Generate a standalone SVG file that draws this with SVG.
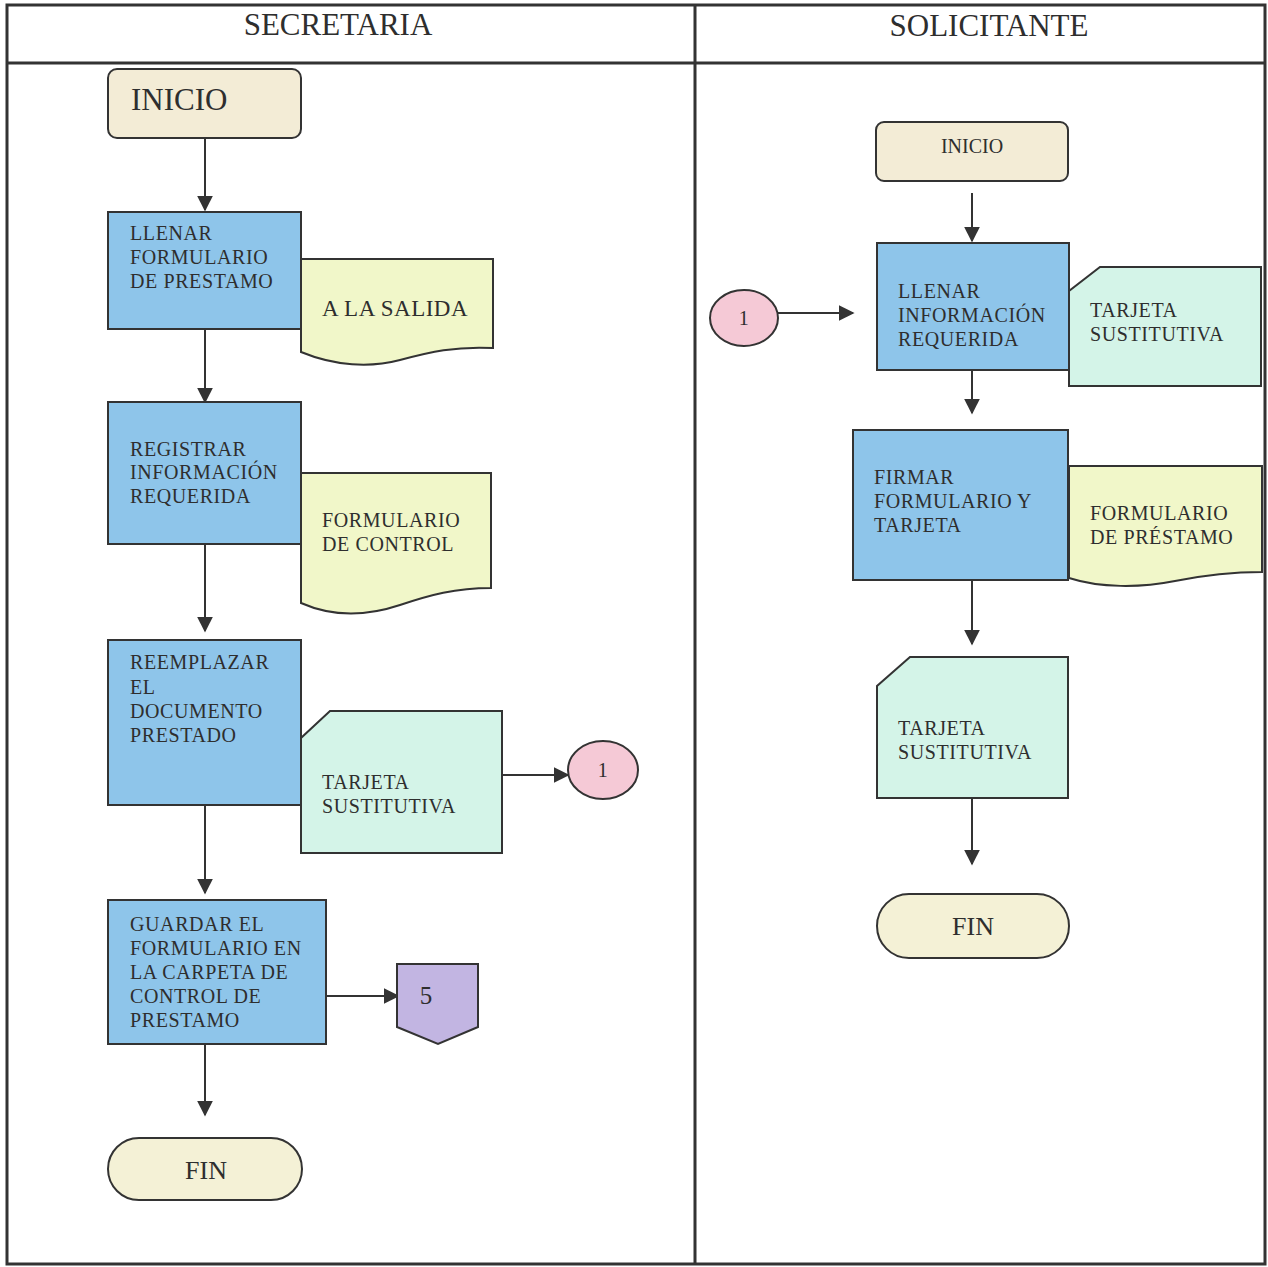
<svg xmlns="http://www.w3.org/2000/svg" width="1268" height="1267" viewBox="0 0 1268 1267" font-family="'Liberation Serif', 'DejaVu Serif', serif">
<style>
text{font-family:'Liberation Serif','DejaVu Serif',serif;fill:#2e2e2e}
.hdr{font-size:31px;text-anchor:middle}
.t{font-size:20px;letter-spacing:0.6px}
.s{stroke:#333;stroke-width:2}
.proc{fill:#8ec5ea}
.doc{fill:#f1f7c9}
.card{fill:#d4f4e8}
.term{fill:#f3ecd6}
.fin{fill:#f4f1d6}
.conn{fill:#f5c9d6}
.off{fill:#c2b5e2}
.edge{stroke:#333;stroke-width:2;fill:none;marker-end:url(#ah)}
</style>
<defs>
<marker id="ah" viewBox="0 0 10 10" refX="9" refY="5" markerWidth="16" markerHeight="16" markerUnits="userSpaceOnUse" orient="auto"><path d="M0,0 L10,5 L0,10 z" fill="#333"/></marker>
</defs>
<rect width="1268" height="1267" fill="#fff"/>
<g id="frame">
<rect x="7" y="5" width="1258" height="1259" fill="none" stroke="#333" stroke-width="3"/>
<line x1="7" y1="63" x2="1265" y2="63" stroke="#333" stroke-width="3"/>
<line x1="695" y1="5" x2="695" y2="1264" stroke="#333" stroke-width="3"/>
<text class="hdr" x="338" y="35">SECRETARIA</text>
<text class="hdr" x="989" y="36">SOLICITANTE</text>
</g>
<g id="connectors">
<line class="edge" x1="205" y1="138" x2="205" y2="210"/>
<line class="edge" x1="205" y1="329" x2="205" y2="402"/>
<line class="edge" x1="205" y1="544" x2="205" y2="631"/>
<line class="edge" x1="502" y1="775" x2="568" y2="775"/>
<line class="edge" x1="205" y1="805" x2="205" y2="893"/>
<line class="edge" x1="326" y1="996" x2="398" y2="996"/>
<line class="edge" x1="205" y1="1044" x2="205" y2="1115"/>
<line class="edge" x1="972" y1="193" x2="972" y2="241"/>
<line class="edge" x1="778" y1="313" x2="853" y2="313"/>
<line class="edge" x1="972" y1="370" x2="972" y2="413"/>
<line class="edge" x1="972" y1="565" x2="972" y2="644"/>
<line class="edge" x1="972" y1="775" x2="972" y2="864"/>
</g>
<g id="s-inicio">
<rect class="term s" x="108" y="69" width="193" height="69" rx="9"/>
<text x="131" y="110" style="font-size:31px">INICIO</text>
</g>
<g id="s-llenar">
<rect class="proc s" x="108" y="212" width="193" height="117"/>
<text class="t" x="130" y="240">LLENAR</text>
<text class="t" x="130" y="264">FORMULARIO</text>
<text class="t" x="130" y="288">DE PRESTAMO</text>
</g>
<g id="s-salida">
<path class="doc s" d="M301,259 H493 V348 C455,346 430,352 400,360 C370,368 335,366 301,352 Z"/>
<text x="322" y="316" style="font-size:23px;letter-spacing:0.5px">A LA SALIDA</text>
</g>
<g id="s-registrar">
<rect class="proc s" x="108" y="402" width="193" height="142"/>
<text class="t" x="130" y="456">REGISTRAR</text>
<text class="t" x="130" y="479">INFORMACIÓN</text>
<text class="t" x="130" y="503">REQUERIDA</text>
</g>
<g id="s-control">
<path class="doc s" d="M301,473 H491 V588 C455,588 430,595 400,605 C370,615 335,618 301,603 Z"/>
<text class="t" x="322" y="527">FORMULARIO</text>
<text class="t" x="322" y="551">DE CONTROL</text>
</g>
<g id="s-reemplazar">
<rect class="proc s" x="108" y="640" width="193" height="165"/>
<text class="t" x="130" y="669">REEMPLAZAR</text>
<text class="t" x="130" y="694">EL</text>
<text class="t" x="130" y="718">DOCUMENTO</text>
<text class="t" x="130" y="742">PRESTADO</text>
</g>
<g id="s-tarjeta">
<path class="card s" d="M330,711 H502 V853 H301 V738 Z"/>
<text class="t" x="322" y="789">TARJETA</text>
<text class="t" x="322" y="813">SUSTITUTIVA</text>
</g>
<g id="s-c1">
<ellipse class="conn s" cx="603" cy="770" rx="35" ry="29"/>
<text class="t" x="603" y="777" text-anchor="middle">1</text>
</g>
<g id="s-guardar">
<rect class="proc s" x="108" y="900" width="218" height="144"/>
<text class="t" x="130" y="931">GUARDAR EL</text>
<text class="t" x="130" y="955">FORMULARIO EN</text>
<text class="t" x="130" y="979">LA CARPETA DE</text>
<text class="t" x="130" y="1003">CONTROL DE</text>
<text class="t" x="130" y="1027">PRESTAMO</text>
</g>
<g id="s-off5">
<path class="off s" d="M397,964 H478 V1027 L438,1044 L397,1027 Z"/>
<text x="426" y="1004" style="font-size:25px" text-anchor="middle">5</text>
</g>
<g id="s-fin">
<rect class="fin s" x="108" y="1138" width="194" height="62" rx="31"/>
<text x="206" y="1179" style="font-size:26px" text-anchor="middle">FIN</text>
</g>
<g id="r-inicio">
<rect class="term s" x="876" y="122" width="192" height="59" rx="8"/>
<text x="972" y="153" style="font-size:20px" text-anchor="middle">INICIO</text>
</g>
<g id="r-c1">
<ellipse class="conn s" cx="744" cy="318" rx="34" ry="28"/>
<text class="t" x="744" y="325" text-anchor="middle">1</text>
</g>
<g id="r-llenar">
<rect class="proc s" x="877" y="243" width="192" height="127"/>
<text class="t" x="898" y="298">LLENAR</text>
<text class="t" x="898" y="322">INFORMACIÓN</text>
<text class="t" x="898" y="346">REQUERIDA</text>
</g>
<g id="r-tarjeta1">
<path class="card s" d="M1100,267 H1261 V386 H1069 V291 Z"/>
<text class="t" x="1090" y="317">TARJETA</text>
<text class="t" x="1090" y="341">SUSTITUTIVA</text>
</g>
<g id="r-firmar">
<rect class="proc s" x="853" y="430" width="215" height="150"/>
<text class="t" x="874" y="484">FIRMAR</text>
<text class="t" x="874" y="508">FORMULARIO Y</text>
<text class="t" x="874" y="532">TARJETA</text>
</g>
<g id="r-formulario">
<path class="doc s" d="M1069,466 H1262 V572 C1230,572 1205,575 1175,581 C1140,588 1100,588 1069,578 Z"/>
<text class="t" x="1090" y="520">FORMULARIO</text>
<text class="t" x="1090" y="544">DE PRÉSTAMO</text>
</g>
<g id="r-tarjeta2">
<path class="card s" d="M910,657 H1068 V798 H877 V686 Z"/>
<text class="t" x="898" y="735">TARJETA</text>
<text class="t" x="898" y="759">SUSTITUTIVA</text>
</g>
<g id="r-fin">
<rect class="fin s" x="877" y="894" width="192" height="64" rx="32"/>
<text x="973" y="935" style="font-size:26px" text-anchor="middle">FIN</text>
</g>
</svg>
